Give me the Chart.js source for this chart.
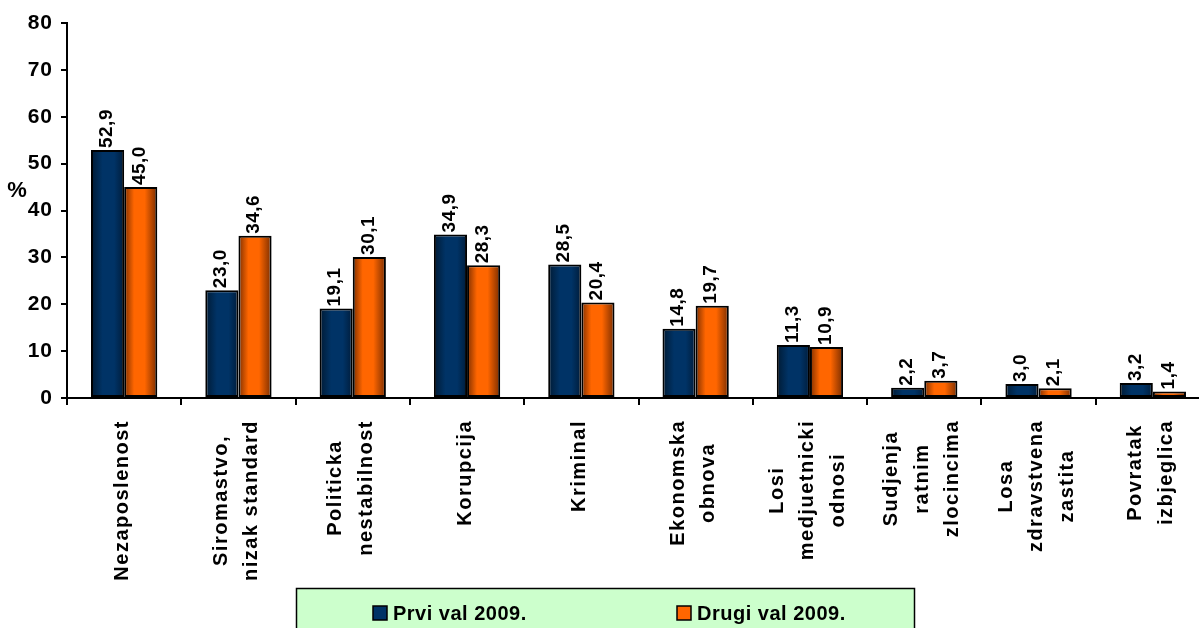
<!DOCTYPE html>
<html>
<head>
<meta charset="utf-8">
<script src="https://cdn.jsdelivr.net/npm/chart.js@4.4.1/dist/chart.umd.min.js"></script>
<style>
  html, body { margin: 0; padding: 0; background: #ffffff; overflow: hidden; }
  #wrap { width: 1230px; height: 628px; }
</style>
</head>
<body>
<div id="wrap"><canvas id="c" width="1230" height="628"></canvas></div>
<script>
// ---- data ----
const categories = [
  ['Nezaposlenost'],
  ['Siromastvo,', 'nizak standard'],
  ['Politicka', 'nestabilnost'],
  ['Korupcija'],
  ['Kriminal'],
  ['Ekonomska', 'obnova'],
  ['Losi', 'medjuetnicki', 'odnosi'],
  ['Sudjenja', 'ratnim', 'zlocincima'],
  ['Losa', 'zdravstvena', 'zastita'],
  ['Povratak', 'izbjeglica']
];
const seriesNames = ['Prvi val 2009.', 'Drugi val 2009.'];
const prviVal = [52.9, 23.0, 19.1, 34.9, 28.5, 14.8, 11.3, 2.2, 3.0, 3.2];
const drugiVal = [45.0, 34.6, 30.1, 28.3, 20.4, 19.7, 10.9, 3.7, 2.1, 1.4];
const yTicks = [0, 10, 20, 30, 40, 50, 60, 70, 80];
const yTitle = '%';

const CAT_PCT = 0.58;
const solids = ['#003366', '#ff6600'];
const gradStops = [
  [[0, '#001a33'], [0.35, '#003366'], [0.7, '#003366'], [1, '#001c3a']],
  [[0, '#7e2f00'], [0.3, '#ff6600'], [0.62, '#ff6600'], [1, '#7a2d00']]
];

function barFill(ctx) {
  const chart = ctx.chart;
  const xs = chart.scales && chart.scales.x;
  if (!chart.chartArea || !xs || ctx.dataIndex == null) return solids[ctx.datasetIndex];
  const center = xs.getPixelForValue(ctx.dataIndex);
  const catW = xs.width / categories.length;
  const bw = catW * CAT_PCT / 2;
  const left = ctx.datasetIndex === 0 ? center - bw : center;
  const g = chart.ctx.createLinearGradient(left, 0, left + bw, 0);
  gradStops[ctx.datasetIndex].forEach(s => g.addColorStop(s[0], s[1]));
  return g;
}

const FONT = 'Arial, "Liberation Sans", sans-serif';

const decoPlugin = {
  id: 'deco',
  beforeDraw(chart) {
    chart.ctx.letterSpacing = '1px';
  },
  afterDatasetsDraw(chart) {
    const ctx = chart.ctx;
    ctx.save();
    ctx.letterSpacing = '0.5px';
    ctx.font = 'bold 19px ' + FONT;
    ctx.fillStyle = '#000';
    ctx.textAlign = 'left';
    ctx.textBaseline = 'middle';
    chart.data.datasets.forEach((ds, di) => {
      const meta = chart.getDatasetMeta(di);
      meta.data.forEach((el, i) => {
        const txt = ds.data[i].toFixed(1).replace('.', ',');
        ctx.save();
        ctx.translate(el.x - 1, el.y - 2);
        ctx.rotate(-Math.PI / 2);
        ctx.fillText(txt, 0, 0);
        ctx.restore();
      });
    });
    ctx.restore();
  },
  afterDraw(chart) {
    const ctx = chart.ctx;
    const xs = chart.scales.x;
    const area = chart.chartArea;
    ctx.save();
    // category labels
    ctx.letterSpacing = '1.5px';
    ctx.font = 'bold 20px ' + FONT;
    ctx.fillStyle = '#000';
    ctx.textAlign = 'center';
    ctx.textBaseline = 'middle';
    const lh = 30.5;
    const top = area.bottom + 22;
    categories.forEach((lines, i) => {
      const cx = xs.getPixelForValue(i) - 2;
      const maxW = Math.max(...lines.map(l => ctx.measureText(l).width));
      lines.forEach((line, j) => {
        const lx = cx + (j - (lines.length - 1) / 2) * lh;
        ctx.save();
        ctx.translate(lx, top + maxW / 2);
        ctx.rotate(-Math.PI / 2);
        ctx.fillText(line, 0, 0);
        ctx.restore();
      });
    });
    // y title
    ctx.letterSpacing = '0px';
    ctx.font = 'bold 22px ' + FONT;
    ctx.fillText(yTitle, 17, 191);
    // legend
    const bx = 296.5, by = 588.5, bw = 618, bh = 60;
    ctx.fillStyle = '#ccffcc';
    ctx.fillRect(bx, by, bw, bh);
    ctx.strokeStyle = '#000';
    ctx.lineWidth = 1.5;
    ctx.strokeRect(bx, by, bw, bh);
    const itemX = [373, 677];
    const ly = 613;
    ctx.font = 'bold 20px ' + FONT;
    ctx.letterSpacing = '0.5px';
    ctx.textAlign = 'left';
    chart.data.datasets.forEach((ds, di) => {
      ctx.fillStyle = solids[di];
      ctx.fillRect(itemX[di], ly - 7, 14, 14);
      ctx.lineWidth = 1.5;
      ctx.strokeStyle = '#000';
      ctx.strokeRect(itemX[di], ly - 7, 14, 14);
      ctx.fillStyle = '#000';
      ctx.fillText(ds.label, itemX[di] + 20, ly + 1);
    });
    ctx.restore();
  }
};

new Chart(document.getElementById('c'), {
  type: 'bar',
  data: {
    labels: categories,
    datasets: [
      { label: seriesNames[0], data: prviVal, backgroundColor: barFill, borderColor: '#000', borderWidth: 2, borderSkipped: false, categoryPercentage: CAT_PCT, barPercentage: 1.0 },
      { label: seriesNames[1], data: drugiVal, backgroundColor: barFill, borderColor: '#000', borderWidth: 2, borderSkipped: false, categoryPercentage: CAT_PCT, barPercentage: 1.0 }
    ]
  },
  options: {
    responsive: false,
    animation: false,
    layout: { padding: { top: 23, left: 0, right: 20, bottom: 0 } },
    plugins: { legend: { display: false }, tooltip: { enabled: false } },
    scales: {
      x: {
        ticks: { display: false },
        grid: { display: true, drawOnChartArea: false, drawTicks: true, tickLength: 7, color: '#000', lineWidth: 2, offset: true },
        border: { display: true, color: '#000', width: 2 },
        afterFit(scale) { scale.height = 230; }
      },
      y: {
        min: 0, max: 80,
        afterBuildTicks(scale) { scale.ticks = yTicks.map(v => ({ value: v })); },
        ticks: { color: '#000', font: { family: FONT, size: 21, weight: 'bold' }, padding: 8 },
        grid: { display: true, drawOnChartArea: false, drawTicks: true, tickLength: 6, color: '#000', lineWidth: 2 },
        border: { display: true, color: '#000', width: 2 },
        afterFit(scale) { scale.width = 67; }
      }
    }
  },
  plugins: [decoPlugin]
});
</script>
</body>
</html>
